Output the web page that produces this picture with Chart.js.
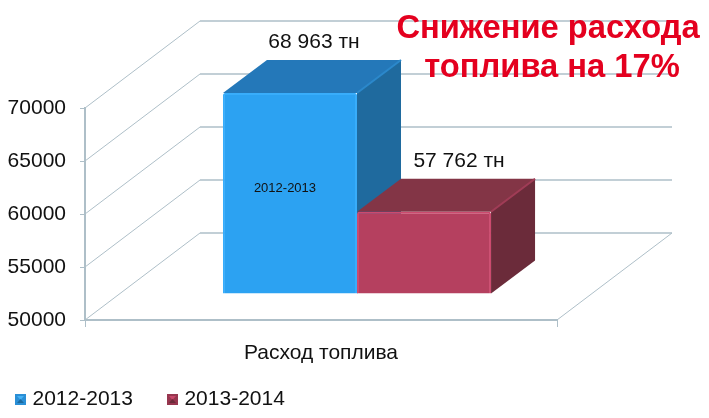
<!DOCTYPE html>
<html lang="ru">
<head>
  <meta charset="UTF-8" />
  <title>Расход топлива</title>
  <script src="https://cdn.jsdelivr.net/npm/chart.js"></script>
  <style>
    body { margin: 0; background: #fff; }
    canvas { display: block; }
  </style>
</head>
<body>
  <canvas id="fuelChart" width="709" height="418"></canvas>

  <script>
    const categories = ['Расход топлива'];
    const seasons = ['2012-2013', '2013-2014'];
    const fuel2012 = [68963];
    const fuel2013 = [57762];
    const yTicks = [50000, 55000, 60000, 65000, 70000];
    const headline = ['Снижение расхода', 'топлива на 17%'];

    const FONT = '"Liberation Sans", Arial, sans-serif';
    const GRID = '#aebfc8';

    // fake 3d: wall depth and how far the bars sit from the front of the floor
    const WALL = { dx: 115, dy: -87 };
    const SHIFT = { dx: 36, dy: -26 };
    const DEPTH = { dx: 44, dy: -33 };

    const faces = [
      { side: '#1f6a9e', top: '#2478b9', edge: '#2b88cb', labelDx: 24 },
      { side: '#6b2b3a', top: '#833546', edge: '#a03c56', labelDx: 35 }
    ];

    function poly(ctx, pts, fill) {
      ctx.beginPath();
      pts.forEach((p, i) => i ? ctx.lineTo(p[0], p[1]) : ctx.moveTo(p[0], p[1]));
      ctx.closePath();
      ctx.fillStyle = fill;
      ctx.fill();
    }

    function swatch(main, dark, light) {
      const c = document.createElement('canvas');
      c.width = 11;
      c.height = 11;
      const g = c.getContext('2d');
      g.fillStyle = main;
      g.fillRect(0, 0, 11, 11);
      poly(g, [[2, 2], [9, 2], [5.5, 6]], light);
      poly(g, [[2, 9], [9, 9], [5.5, 5]], dark);
      return c;
    }

    const room = {
      id: 'room',
      beforeDatasetsDraw(chart) {
        const { ctx, chartArea: a, scales: { y } } = chart;
        // back wall and floor lines, behind the bars
        ctx.save();
        ctx.strokeStyle = GRID;
        yTicks.forEach(v => {
          const py = y.getPixelForValue(v);
          ctx.lineWidth = 1;
          ctx.beginPath();
          ctx.moveTo(a.left, py);
          ctx.lineTo(a.left + WALL.dx, py + WALL.dy);
          ctx.stroke();
          ctx.lineWidth = 1.5;
          ctx.beginPath();
          ctx.moveTo(a.left + WALL.dx, py + WALL.dy);
          ctx.lineTo(a.right + WALL.dx, py + WALL.dy);
          ctx.stroke();
          if (v === yTicks[0]) {
            ctx.lineWidth = 1;
            ctx.beginPath();
            ctx.moveTo(a.right + WALL.dx, py + WALL.dy);
            ctx.lineTo(a.right, py);
            ctx.stroke();
          }
        });
        ctx.restore();
        // top and side faces, first bar first so the second one overlaps it
        faces.forEach((f, i) => {
          const bar = chart.getDatasetMeta(i).data[0];
          const half = bar.width / 2;
          const l = bar.x - half + SHIFT.dx;
          const r = bar.x + half + SHIFT.dx;
          const t = bar.y + SHIFT.dy;
          const b = bar.base + SHIFT.dy;
          poly(ctx, [[r, t], [r + DEPTH.dx, t + DEPTH.dy], [r + DEPTH.dx, b + DEPTH.dy], [r, b]], f.side);
          poly(ctx, [[l, t], [l + DEPTH.dx, t + DEPTH.dy], [r + DEPTH.dx, t + DEPTH.dy], [r, t]], f.top);
          ctx.save();
          ctx.strokeStyle = f.edge;
          ctx.lineWidth = 2;
          ctx.beginPath();
          ctx.moveTo(r, t);
          ctx.lineTo(r + DEPTH.dx, t + DEPTH.dy);
          ctx.stroke();
          ctx.restore();
        });
      },
      // the front face is the library's own bar, just moved back onto the floor
      beforeDatasetDraw(chart) {
        chart.ctx.save();
        chart.ctx.translate(SHIFT.dx, SHIFT.dy);
      },
      afterDatasetDraw(chart) {
        chart.ctx.restore();
      },
      afterLayout(chart) {
        // legend padding gives the gap between items, so pull the box back in place
        const lg = chart.legend;
        lg.left -= 19;
        lg.top += 30;
        lg.bottom += 30;
        // tick labels are clipped to the scale box
        chart.scales.x.bottom = chart.height;
      },
      afterDraw(chart) {
        const { ctx } = chart;
        ctx.save();
        ctx.textAlign = 'center';
        ctx.textBaseline = 'middle';
        ctx.fillStyle = '#111';
        ctx.font = '21px ' + FONT;
        chart.data.datasets.forEach((ds, i) => {
          const bar = chart.getDatasetMeta(i).data[0];
          const txt = ds.data[0].toString().replace(/(\d{3})$/, ' $1') + ' тн';
          ctx.fillText(txt, bar.x + SHIFT.dx + faces[i].labelDx, bar.y + SHIFT.dy + DEPTH.dy - 18);
        });
        const first = chart.getDatasetMeta(0).data[0];
        ctx.font = '13px ' + FONT;
        ctx.fillText(seasons[0], first.x + SHIFT.dx - 5, 188);
        ctx.fillStyle = '#e4001f';
        ctx.font = 'bold 32.7px ' + FONT;
        ctx.fillText(headline[0], 548, 29);
        ctx.fillText(headline[1], 552, 68);
        ctx.restore();
      }
    };

    new Chart(document.getElementById('fuelChart'), {
      type: 'bar',
      data: {
        labels: categories,
        datasets: [
          {
            label: seasons[0],
            data: fuel2012,
            base: yTicks[0],
            backgroundColor: '#2ca2f2',
            borderColor: '#38adfb',
            borderWidth: 2,
            borderRadius: 2,
            borderSkipped: 'bottom',
            clip: false
          },
          {
            label: seasons[1],
            data: fuel2013,
            base: yTicks[0],
            backgroundColor: '#b5405f',
            borderColor: '#cc4a6e',
            borderWidth: 2,
            borderRadius: 2,
            borderSkipped: 'bottom',
            clip: false
          }
        ]
      },
      options: {
        responsive: false,
        animation: false,
        barPercentage: 1,
        categoryPercentage: 0.568,
        layout: {
          autoPadding: false,
          padding: { top: 108, right: 152, bottom: 28, left: 0 }
        },
        scales: {
          x: {
            afterFit: s => { s.height = 1; },
            border: { color: GRID, width: 2 },
            grid: { drawOnChartArea: false, color: GRID, tickLength: 7 },
            ticks: { color: '#111', padding: 14, maxRotation: 0, font: { family: FONT, size: 21 } }
          },
          y: {
            min: 50000,
            max: 70000,
            afterFit: s => { s.width = 85; },
            afterBuildTicks: s => { s.ticks = yTicks.map(v => ({ value: v })); },
            border: { color: GRID, width: 2 },
            grid: { drawOnChartArea: false, color: GRID, tickLength: 5 },
            ticks: { color: '#111', padding: 14, callback: v => String(v), font: { family: FONT, size: 21 } }
          }
        },
        plugins: {
          tooltip: { enabled: false },
          legend: {
            position: 'bottom',
            align: 'start',
            labels: {
              color: '#111',
              padding: 38,
              usePointStyle: true,
              pointStyleWidth: 3,
              font: { family: FONT, size: 21 },
              generateLabels: chart => chart.data.datasets.map((ds, i) => ({
                text: ds.label,
                datasetIndex: i,
                fontColor: '#111',
                pointStyle: i === 0 ? swatch('#2a8fd6', '#1c6a9f', '#45b2f5') : swatch('#97364f', '#6b2b3a', '#c9486b')
              }))
            }
          }
        }
      },
      plugins: [room]
    });
  </script>
</body>
</html>
